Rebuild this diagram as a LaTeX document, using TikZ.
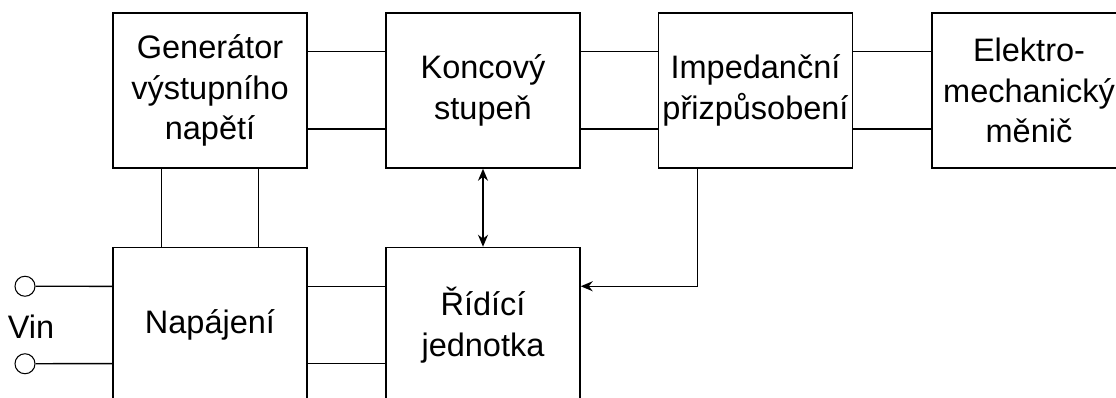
\documentclass[tikz,border=0pt]{standalone}
\usepackage{fontspec}
\setmainfont{Liberation Sans}
\usetikzlibrary{arrows.meta}
\begin{document}
\begin{tikzpicture}[x=0.02cm,y=-0.02cm,
 blk/.style={draw, line width=0.85pt, minimum width=3.88cm, minimum height=3.1cm, align=center, inner sep=0pt, font=\fontsize{18.5}{23.2}\selectfont},
 wire/.style={line width=0.85pt},
 arr/.style={-{Stealth[length=0.24cm,width=0.2cm]}},
 darr/.style={{Stealth[length=0.24cm,width=0.2cm]}-{Stealth[length=0.24cm,width=0.2cm]}},
 term/.style={circle, draw, line width=0.6pt, minimum size=0.4cm, inner sep=0pt},
 lbl/.style={font=\fontsize{18.5}{23.2}\selectfont, inner sep=0pt}
]
\useasboundingbox (0,0) rectangle (1116,398);
\node[blk] (gen) at (210,90.5) {Generátor\\výstupního\\napětí};
\node[blk] (kon) at (483,90.5) {Koncový\\stupeň};
\node[blk] (imp) at (755.5,90.5) {Impedanční\\přizpůsobení};
\node[blk] (ele) at (1029,90.5) {Elektro-\\mechanický\\měnič};
\node[blk] (nap) at (210,325) {Napájení};
\node[blk] (rid) at (483,325) {Řídící\\jednotka};
\node[term] (c1) at (25,286.25) {};
\node[term] (c2) at (25,363.75) {};
\node[lbl] (vin) at (31,327) {Vin};
% horizontal wires
\foreach \a/\b in {gen/kon, kon/imp, imp/ele, nap/rid}{
  \draw[wire] ([yshift=0.775cm]\a.east) -- ([yshift=0.775cm]\b.west);
  \draw[wire] ([yshift=-0.775cm]\a.east) -- ([yshift=-0.775cm]\b.west);
}
% generator to power supply
\draw[wire] ([xshift=-0.97cm]gen.south) -- ([xshift=-0.97cm]nap.north);
\draw[wire] ([xshift=0.97cm]gen.south) -- ([xshift=0.97cm]nap.north);
% control links
\draw[wire,darr] (kon.south) -- (rid.north);
\draw[wire,arr] ([xshift=-1.164cm]imp.south) |- ([yshift=0.775cm]rid.east);
% input terminals
\draw[wire] (c1.east) -- ([yshift=0.775cm]nap.west);
\draw[wire] (c2.east) -- ([yshift=-0.775cm]nap.west);
\end{tikzpicture}
\end{document}
